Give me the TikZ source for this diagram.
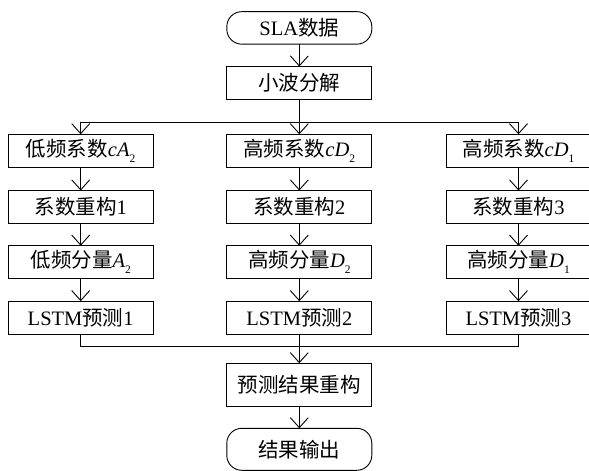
\documentclass[tikz,border=0pt]{standalone}
\usepackage{fontspec}
\setmainfont{Liberation Serif}
\newfontfamily\cjk{Noto Sans CJK SC}
\usetikzlibrary{arrows.meta}
\newcommand{\sbs}[1]{\raisebox{-0.28em}{\fontsize{11.5}{11.5}\selectfont #1}}
\tikzset{
  box/.style={draw, line width=0.9pt, minimum width=145pt, minimum height=33pt, inner sep=0pt, outer sep=0pt, font=\fontsize{20.5}{23}\selectfont},
  term/.style={box, rounded corners=15pt},
  arr/.style={-{Straight Barb[length=10pt,width=18pt,line width=0.9pt]}, line width=0.9pt},
  ln/.style={line width=0.9pt}
}
\begin{document}
\begin{tikzpicture}[x=1pt,y=-1pt]
\useasboundingbox (0,0) rectangle (589,471);
\node[term, minimum height=32.5pt] (sla) at (299.3,27.9) {SLA{\cjk 数据}};
\node[box] (wav) at (299.3,83) {{\cjk 小波分解}};
\coordinate (split) at (299.3,122.7);
\node[box] (a1) at (80.7,150.8) {{\cjk 低频系数}\textit{cA}\sbs{2}};
\node[box] (b1) at (299.3,150.8) {{\cjk 高频系数}\textit{cD}\sbs{2}};
\node[box] (c1) at (518.5,150.8) {{\cjk 高频系数}\textit{cD}\sbs{1}};
\node[box] (a2) at (80.7,207) {{\cjk 系数重构}1};
\node[box] (b2) at (299.3,207) {{\cjk 系数重构}2};
\node[box] (c2) at (518.5,207) {{\cjk 系数重构}3};
\node[box] (a3) at (80.7,262.2) {{\cjk 低频分量}\textit{A}\sbs{2}};
\node[box] (b3) at (299.3,262.2) {{\cjk 高频分量}\textit{D}\sbs{2}};
\node[box] (c3) at (518.5,262.2) {{\cjk 高频分量}\textit{D}\sbs{1}};
\node[box] (a4) at (80.7,317.7) {LSTM{\cjk 预测}1};
\node[box] (b4) at (299.3,317.7) {LSTM{\cjk 预测}2};
\node[box] (c4) at (518.5,317.7) {LSTM{\cjk 预测}3};
\coordinate (merge) at (299.3,346);
\node[box, minimum height=42.7pt] (rec) at (299.3,384.6) {{\cjk 预测结果重构}};
\node[term, minimum height=42pt] (out) at (299.3,449.3) {{\cjk 结果输出}};
\draw[arr] (sla) -- (wav);
\draw[ln] (wav) -- (split);
\draw[arr] (split) -| (a1.north);
\draw[arr] (split) -- (b1);
\draw[arr] (split) -| (c1.north);
\foreach \c in {a,b,c}{
  \draw[arr] (\c1) -- (\c2);
  \draw[arr] (\c2) -- (\c3);
  \draw[arr] (\c3) -- (\c4);
}
\draw[ln] (a4) |- (merge);
\draw[ln] (c4) |- (merge);
\draw[arr] (b4) -- (rec);
\draw[arr] (rec) -- (out);
\end{tikzpicture}
\end{document}
